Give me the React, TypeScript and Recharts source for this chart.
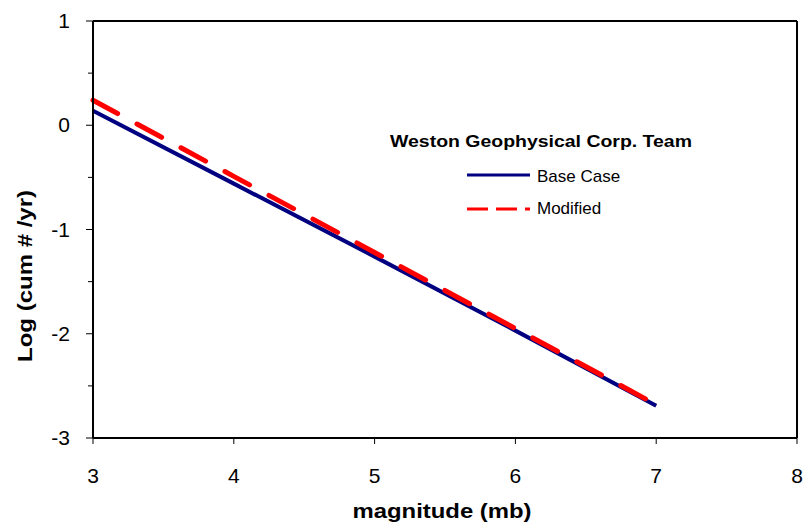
import React from 'react';
import { LineChart, Line, XAxis, YAxis, ReferenceLine, Label } from 'recharts';

// valeurs
const magnitudes = [3, 4, 5, 6, 7];
const baseCase = [0.14, -0.56, -1.26, -1.97, -2.69];
const modified = [0.24, -0.49, -1.22, -1.95, -2.68];

const xTicks = [3, 4, 5, 6, 7, 8];
const yTicks = [-3, -2.5, -2, -1.5, -1, -0.5, 0, 0.5, 1];

const seriesNames = ['Base Case', 'Modified'];
const seriesColors = ['#000080', '#ff0000'];

const FONT = "Arial, 'Liberation Sans', sans-serif";

const data = magnitudes.map((m, i) => ({ mag: m, base: baseCase[i], mod: modified[i] }));

function YTick({ x, y, payload }: any) {
  const major = Number.isInteger(payload.value);
  return (
    <g>
      <line x1={x - (major ? 7 : 5)} x2={x} y1={y} y2={y} stroke="#000" strokeWidth={1} />
      {major && (
        <text x={x - 23} y={y} dy={7} textAnchor="end" fontSize={21} fontFamily={FONT} fill="#000">
          {payload.value}
        </text>
      )}
    </g>
  );
}

function XTick({ x, y, payload }: any) {
  return (
    <g>
      <line x1={x} x2={x} y1={y} y2={y + 6} stroke="#000" strokeWidth={1} />
      <text x={x} y={y + 45} textAnchor="middle" fontSize={21} fontFamily={FONT} fill="#000">
        {payload.value}
      </text>
    </g>
  );
}

// légende dessinée à part, par-dessus le graphique
function LegendBox() {
  return (
    <svg width={330} height={110} style={{ position: 'absolute', left: 380, top: 120, display: 'block' }}>
      <text x={10} y={27} fontSize={16.5} fontWeight="bold" fontFamily={FONT} textLength={302} lengthAdjust="spacingAndGlyphs">
        Weston Geophysical Corp. Team
      </text>
      <line x1={87} x2={150} y1={55} y2={55} stroke={seriesColors[0]} strokeWidth={3} />
      <text x={157} y={62} fontSize={17} fontFamily={FONT}>{seriesNames[0]}</text>
      <line x1={87} x2={150} y1={89} y2={89} stroke={seriesColors[1]} strokeWidth={3} strokeDasharray="21 8" />
      <text x={157} y={94} fontSize={17} fontFamily={FONT}>{seriesNames[1]}</text>
    </svg>
  );
}

export default function App() {
  return (
    <div style={{ position: 'absolute', left: 0, top: 0, width: 803, height: 525, background: '#fff' }}>
      <LineChart width={803} height={525} data={data} margin={{ top: 21, right: 6, bottom: 0, left: 0 }}>
        <XAxis
          dataKey="mag"
          type="number"
          domain={[3, 8]}
          ticks={xTicks}
          interval={0}
          height={87}
          tickSize={0}
          tickMargin={0}
          tick={<XTick />}
          axisLine={{ stroke: '#000', strokeWidth: 2 }}
          tickLine={false}
        >
          <Label
            content={({ viewBox }: any) => (
              <text
                x={viewBox.x + viewBox.width / 2 - 3}
                y={518}
                textAnchor="middle"
                fontSize={21}
                fontWeight="bold"
                fontFamily={FONT}
                textLength={179}
                lengthAdjust="spacingAndGlyphs"
              >
                magnitude (mb)
              </text>
            )}
          />
        </XAxis>
        <YAxis
          type="number"
          domain={[-3, 1]}
          ticks={yTicks}
          interval={0}
          width={93}
          tickSize={0}
          tickMargin={0}
          tick={<YTick />}
          axisLine={{ stroke: '#000', strokeWidth: 2 }}
          tickLine={false}
        >
          <Label
            content={() => (
              <text
                x={0}
                y={0}
                transform="translate(32, 276) rotate(-90)"
                textAnchor="middle"
                fontSize={21}
                fontWeight="bold"
                fontFamily={FONT}
                textLength={172}
                lengthAdjust="spacingAndGlyphs"
              >
                Log (cum # /yr)
              </text>
            )}
          />
        </YAxis>
        <ReferenceLine y={1} stroke="#000" strokeWidth={2} />
        <ReferenceLine x={8} stroke="#000" strokeWidth={2} />
        <Line
          type="linear"
          dataKey="base"
          name={seriesNames[0]}
          stroke={seriesColors[0]}
          strokeWidth={4}
          dot={false}
          isAnimationActive={false}
        />
        <Line
          type="linear"
          dataKey="mod"
          name={seriesNames[1]}
          stroke={seriesColors[1]}
          strokeWidth={5}
          strokeDasharray="28 22"
          strokeLinecap="round"
          dot={false}
          isAnimationActive={false}
        />
      </LineChart>
      <LegendBox />
    </div>
  );
}
